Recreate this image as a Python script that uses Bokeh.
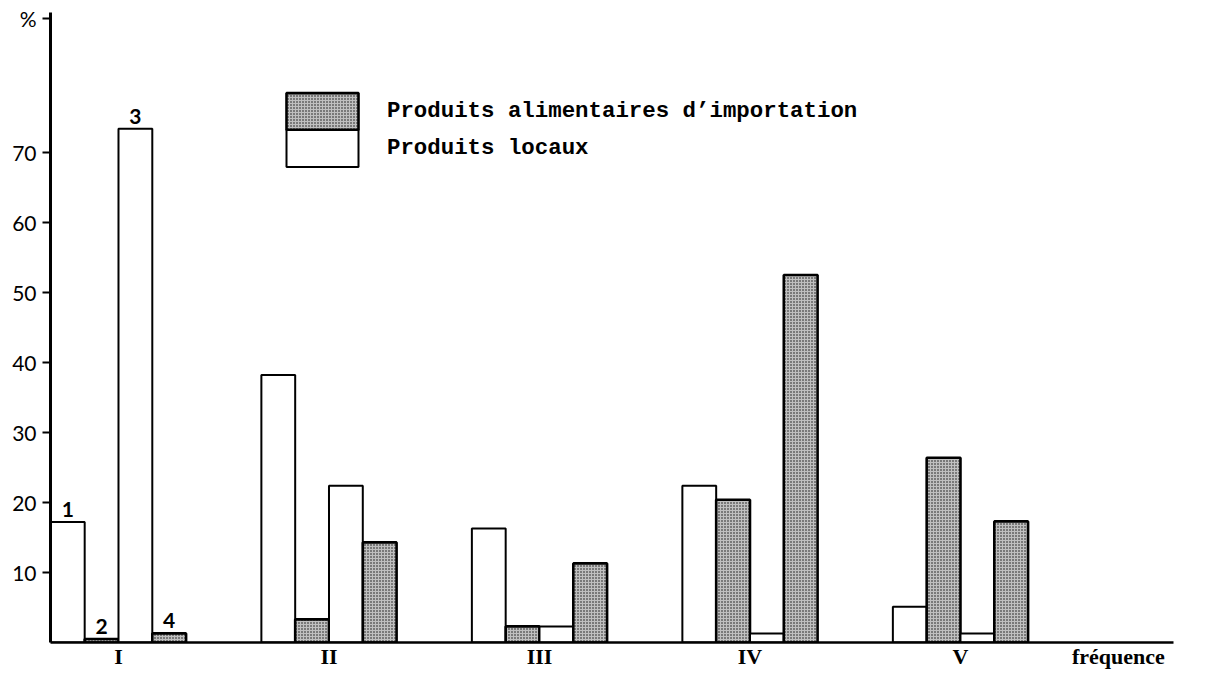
import numpy as np
from bokeh.plotting import figure
from bokeh.models import FixedTicker, Legend, LegendItem, Range1d
from bokeh.embed import file_html
from bokeh.resources import INLINE
from bokeh.core.properties import value

# ---- data ----
groups = ["I", "II", "III", "IV", "V"]
local_1 = [17.2, 38.2, 16.3, 22.4, 5.1]      # bar 1 (produits locaux)
import_2 = [0.5, 3.3, 2.3, 20.4, 26.4]       # bar 2 (importation)
local_3 = [73.4, 22.4, 2.3, 1.3, 1.3]        # bar 3 (produits locaux)
import_4 = [1.3, 14.3, 11.3, 52.5, 17.3]     # bar 4 (importation)
bar_numbers = ["1", "2", "3", "4"]
y_ticks = [10, 20, 30, 40, 50, 60, 70]
x_axis_title = "fréquence"
y_axis_title = "%"
legend_import = "Produits alimentaires d’importation"
legend_local = "Produits locaux"

# ---- layout ----
W = 0.1606
idx = np.arange(len(groups))
title_pos = 4.75
y_title_pos = 89.1

p = figure(width=1195, height=672, output_backend="svg", toolbar_location=None,
           x_range=Range1d(-0.323, 5.012), y_range=Range1d(0, 90),
           min_border_left=50, min_border_right=22, min_border_top=12,
           min_border_bottom=30)
p.grid.visible = False
p.outline_line_color = None
p.background_fill_color = "white"
p.border_fill_color = "white"

shade = dict(fill_color="#c0c0c0", hatch_pattern="dot", hatch_color="#111111",
             hatch_scale=3, hatch_weight=1, line_color="black", line_width=2.6)
plain = dict(fill_color="white", line_color="black", line_width=2.0)

series = [local_1, import_2, local_3, import_4]
styles = [plain, shade, plain, shade]
renderers = []
for k, (vals, st) in enumerate(zip(series, styles)):
    xs = idx + (k - 1.5) * W
    r = p.vbar(x=xs, top=vals, bottom=0, width=W, **st)
    renderers.append(r)

# numbers above the first group's bars
first_x = [0 + (k - 1.5) * W for k in range(4)]
first_y = [s[0] for s in series]
p.text(x=first_x, y=first_y, text=bar_numbers, text_align="center",
       text_baseline="bottom", y_offset=-5, text_font=value("Lato"),
       text_font_style="bold", text_font_size="21px", text_color="black")

# axes
yax = p.yaxis[0]
yax.ticker = FixedTicker(ticks=y_ticks + [y_title_pos])
yax.major_label_overrides = {y_title_pos: y_axis_title}
yax.minor_tick_line_color = None
yax.major_tick_in = 0
yax.major_tick_out = 8
yax.major_tick_line_width = 2
yax.axis_line_width = 3
yax.major_label_text_font = "Lato"
yax.major_label_text_font_size = "21px"
yax.major_label_text_color = "black"
yax.major_label_standoff = 6

xax = p.xaxis[0]
xax.ticker = FixedTicker(ticks=list(idx) + [title_pos])
overrides = {int(i): g for i, g in zip(idx, groups)}
overrides[title_pos] = x_axis_title
xax.major_label_overrides = overrides
xax.minor_tick_line_color = None
xax.major_tick_line_color = None
xax.major_tick_in = 0
xax.major_tick_out = 0
xax.axis_line_width = 2.5
xax.major_label_text_font = "Liberation Serif"
xax.major_label_text_font_style = "bold"
xax.major_label_text_font_size = "22px"
xax.major_label_text_color = "black"
xax.major_label_standoff = 1

legend_style = dict(glyph_width=90, glyph_height=46, label_height=46,
                    label_standoff=20, spacing=0, padding=0, margin=0,
                    border_line_alpha=0, background_fill_alpha=0,
                    label_text_font="Liberation Mono",
                    label_text_font_style="bold",
                    label_text_font_size="22.4px", label_text_color="black")
legend_a = Legend(items=[LegendItem(label=legend_import, renderers=[renderers[1]])],
                  location=(227, 508), **legend_style)
legend_b = Legend(items=[LegendItem(label=legend_local, renderers=[renderers[0]])],
                  location=(227, 471), **legend_style)
p.add_layout(legend_a)
p.add_layout(legend_b)

open("out.html", "w").write(file_html(p, INLINE))
